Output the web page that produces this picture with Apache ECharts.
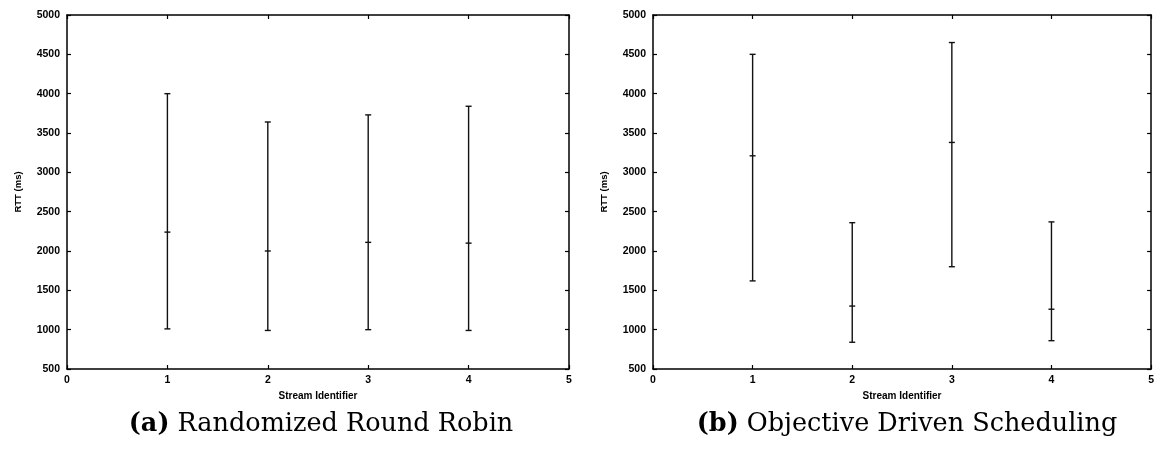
<!DOCTYPE html>
<html>
<head>
<meta charset="utf-8">
<script src="https://cdn.jsdelivr.net/npm/echarts@6/dist/echarts.min.js"></script>
<style>
html,body{margin:0;padding:0;background:#fff;}
#c{width:1157px;height:450px;}
</style>
</head>
<body>
<div id="c"></div>
<script>
// Stream identifiers
const streams = [1, 2, 3, 4];
// (a) Randomized Round Robin: RTT (ms)
const aLow  = [1010, 990, 1000, 990];
const aMean = [2240, 2000, 2110, 2100];
const aHigh = [4000, 3640, 3730, 3840];
// (b) Objective Driven Scheduling: RTT (ms)
const bLow  = [1620, 840, 1800, 860];
const bMean = [3210, 1300, 3380, 1260];
const bHigh = [4500, 2360, 4650, 2370];

const xTitle = 'Stream Identifier';
const yTitle = 'RTT (ms)';
const captionA = ['(a)', 'Randomized Round Robin'];
const captionB = ['(b)', 'Objective Driven Scheduling'];

const chart = echarts.init(document.getElementById('c'), null, {renderer: 'canvas'});

const lineColor = '#000';
const sans = 'Liberation Sans, Arial, sans-serif';
const labelFont = {color: '#000', fontFamily: sans, fontSize: 10.5, fontWeight: 'bold'};
const plain = v => String(v);

function xAxes(g) {
  return [
    {gridIndex: g, type: 'value', min: 0, max: 5, interval: 1, position: 'bottom',
     axisLine: {show: true, onZero: false, lineStyle: {color: lineColor, width: 1.5}},
     axisTick: {show: true, inside: true, length: 4, lineStyle: {color: lineColor, width: 1.2}},
     axisLabel: Object.assign({margin: 6, formatter: plain}, labelFont),
     splitLine: {show: false},
     name: xTitle, nameLocation: 'middle', nameGap: 22,
     nameTextStyle: {color: '#000', fontFamily: sans, fontSize: 10, fontWeight: 'bold'}},
    {gridIndex: g, type: 'value', min: 0, max: 5, interval: 1, position: 'top',
     axisLine: {show: true, onZero: false, lineStyle: {color: lineColor, width: 1.5}},
     axisTick: {show: true, inside: true, length: 4, lineStyle: {color: lineColor, width: 1.2}},
     axisLabel: {show: false}, splitLine: {show: false}}
  ];
}
function yAxes(g) {
  return [
    {gridIndex: g, type: 'value', min: 500, max: 5000, interval: 500, position: 'left',
     axisLine: {show: true, onZero: false, lineStyle: {color: lineColor, width: 1.5}},
     axisTick: {show: true, inside: true, length: 4, lineStyle: {color: lineColor, width: 1.2}},
     axisLabel: Object.assign({margin: 7, formatter: plain}, labelFont),
     splitLine: {show: false},
     name: yTitle, nameLocation: 'middle', nameGap: 44, nameRotate: 90,
     nameTextStyle: {color: '#000', fontFamily: sans, fontSize: 9.5, fontWeight: 'bold'}},
    {gridIndex: g, type: 'value', min: 500, max: 5000, interval: 500, position: 'right',
     axisLine: {show: true, onZero: false, lineStyle: {color: lineColor, width: 1.5}},
     axisTick: {show: true, inside: true, length: 4, lineStyle: {color: lineColor, width: 1.2}},
     axisLabel: {show: false}, splitLine: {show: false}}
  ];
}

function errData(low, mean, high) {
  return streams.map((s, i) => [s, low[i], mean[i], high[i]]);
}

function renderErr(params, api) {
  const x = api.value(0);
  const pLow = api.coord([x, api.value(1)]);
  const pMean = api.coord([x, api.value(2)]);
  const pHigh = api.coord([x, api.value(3)]);
  const hw = 3;
  const style = {stroke: '#111', lineWidth: 1.4};
  return {
    type: 'group',
    children: [
      {type: 'line', shape: {x1: pLow[0], y1: pLow[1], x2: pHigh[0], y2: pHigh[1]}, style: style},
      {type: 'line', shape: {x1: pHigh[0] - hw, y1: pHigh[1], x2: pHigh[0] + hw, y2: pHigh[1]}, style: style},
      {type: 'line', shape: {x1: pLow[0] - hw, y1: pLow[1], x2: pLow[0] + hw, y2: pLow[1]}, style: style},
      {type: 'line', shape: {x1: pMean[0] - hw, y1: pMean[1], x2: pMean[0] + hw, y2: pMean[1]}, style: style}
    ]
  };
}

const serif = 'DejaVu Serif, Liberation Serif, serif';
const capSize = 25.5;
const captionStyle = {
  color: '#000', fontFamily: serif, fontSize: capSize, fontWeight: 'normal',
  rich: {
    b: {fontWeight: 'bold', fontFamily: serif, fontSize: capSize, color: '#000'},
    n: {fontWeight: 'normal', fontFamily: serif, fontSize: capSize, color: '#000'}
  }
};

chart.setOption({
  animation: false,
  backgroundColor: '#fff',
  title: [
    {text: '{b|' + captionA[0] + '}{n| ' + captionA[1] + '}', left: 316, top: 406, textAlign: 'center', textStyle: captionStyle},
    {text: '{b|' + captionB[0] + '}{n| ' + captionB[1] + '}', left: 902, top: 406, textAlign: 'center', textStyle: captionStyle}
  ],
  grid: [
    {left: 67, right: 588, top: 15, bottom: 81},
    {left: 653, right: 2, top: 15, bottom: 81}
  ],
  xAxis: xAxes(0).concat(xAxes(1)),
  yAxis: yAxes(0).concat(yAxes(1)),
  series: [
    {type: 'custom', xAxisIndex: 0, yAxisIndex: 0, data: errData(aLow, aMean, aHigh), renderItem: renderErr,
     encode: {x: 0, y: [1, 2, 3]}, clip: false},
    {type: 'custom', xAxisIndex: 2, yAxisIndex: 2, data: errData(bLow, bMean, bHigh), renderItem: renderErr,
     encode: {x: 0, y: [1, 2, 3]}, clip: false}
  ]
});
</script>
</body>
</html>
